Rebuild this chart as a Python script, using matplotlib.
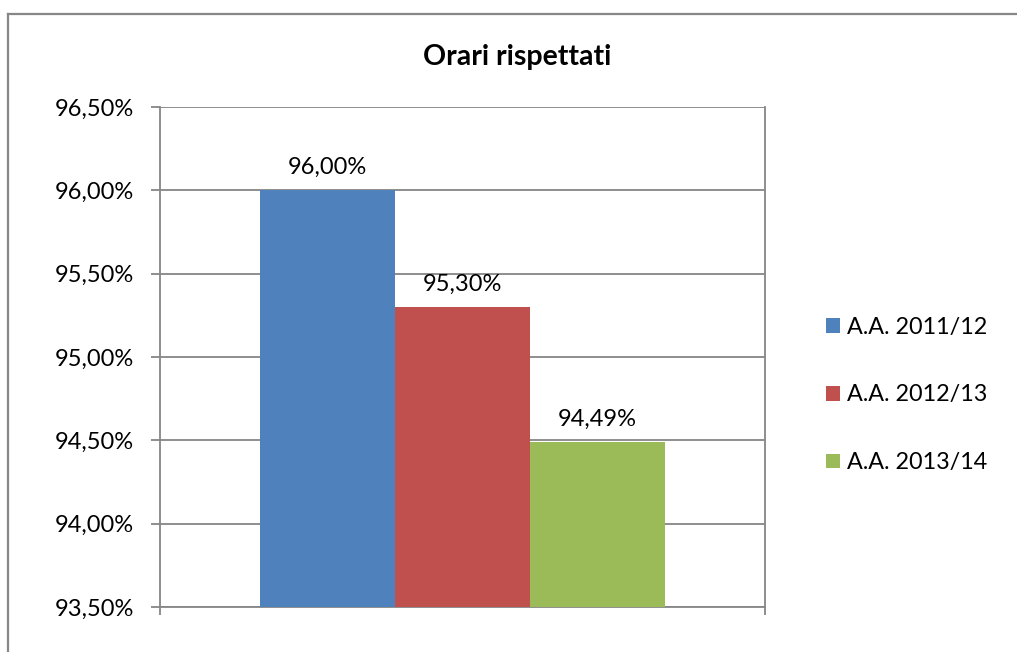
import matplotlib
matplotlib.use("Agg")
import matplotlib.pyplot as plt
import matplotlib.lines as mlines
from matplotlib.ticker import FuncFormatter, MultipleLocator

plt.rcParams['font.family'] = ['Lato', 'DejaVu Sans']

# Data
series = ["A.A. 2011/12", "A.A. 2012/13", "A.A. 2013/14"]
values = [96.00, 95.30, 94.49]
colors = ["#4F81BD", "#C0504D", "#9BBB59"]
title = "Orari rispettati"

W, H = 1017, 652
fig = plt.figure(figsize=(W / 100, H / 100), dpi=100)
fig.patch.set_facecolor('white')

# Outer chart frame (only left and top edges are visible)
frame_col = '#878787'
fig.add_artist(mlines.Line2D([8 / W, 8 / W], [0, 1 - 14 / H], color=frame_col, lw=1.6))
fig.add_artist(mlines.Line2D([8 / W, 1], [1 - 14 / H, 1 - 14 / H], color=frame_col, lw=1.6))

left, right, top, bottom = 160, 765, 107, 607
ax = fig.add_axes([left / W, 1 - bottom / H, (right - left) / W, (bottom - top) / H])

grid_col = '#868686'
positions = [-1, 0, 1]
for x, v, c, name in zip(positions, values, colors, series):
    ax.bar(x, v - 93.5, bottom=93.5, width=1.0, color=c, label=name, zorder=3)
    ax.text(x, v + 0.075, f"{v:.2f}%".replace('.', ','), ha='center', va='bottom',
            fontsize=17, color='black')

ax.set_xlim(-2.24, 2.24)
ax.set_ylim(93.5, 96.5)
ax.yaxis.set_major_locator(MultipleLocator(0.5))
ax.yaxis.set_major_formatter(FuncFormatter(lambda y, _: f"{y:.2f}%".replace('.', ',')))
ax.yaxis.grid(True, color=grid_col, lw=1.3, zorder=0)
ax.set_axisbelow(True)

for side in ['left', 'right', 'bottom']:
    ax.spines[side].set_color(grid_col)
    ax.spines[side].set_linewidth(1.3)
ax.spines['top'].set_visible(False)

ax.tick_params(axis='y', length=6.5, width=1.3, color=grid_col, labelsize=17, pad=12)
ax.set_xticks([-2.24, 2.24])
ax.set_xticklabels([])
ax.tick_params(axis='x', length=6, width=1.3, color=grid_col)

fig.text(517 / W, 1 - 57 / H, title, ha='center', va='center',
         fontsize=20.5, fontweight='bold')

leg = ax.legend(loc='center left', bbox_to_anchor=(826 / W, 1 - 395 / H),
                bbox_transform=fig.transFigure, frameon=False, fontsize=16.8,
                handlelength=0.6, handleheight=0.6, handletextpad=0.3,
                labelspacing=2.0, borderpad=0, borderaxespad=0)

fig.savefig("out.png", dpi=100)
